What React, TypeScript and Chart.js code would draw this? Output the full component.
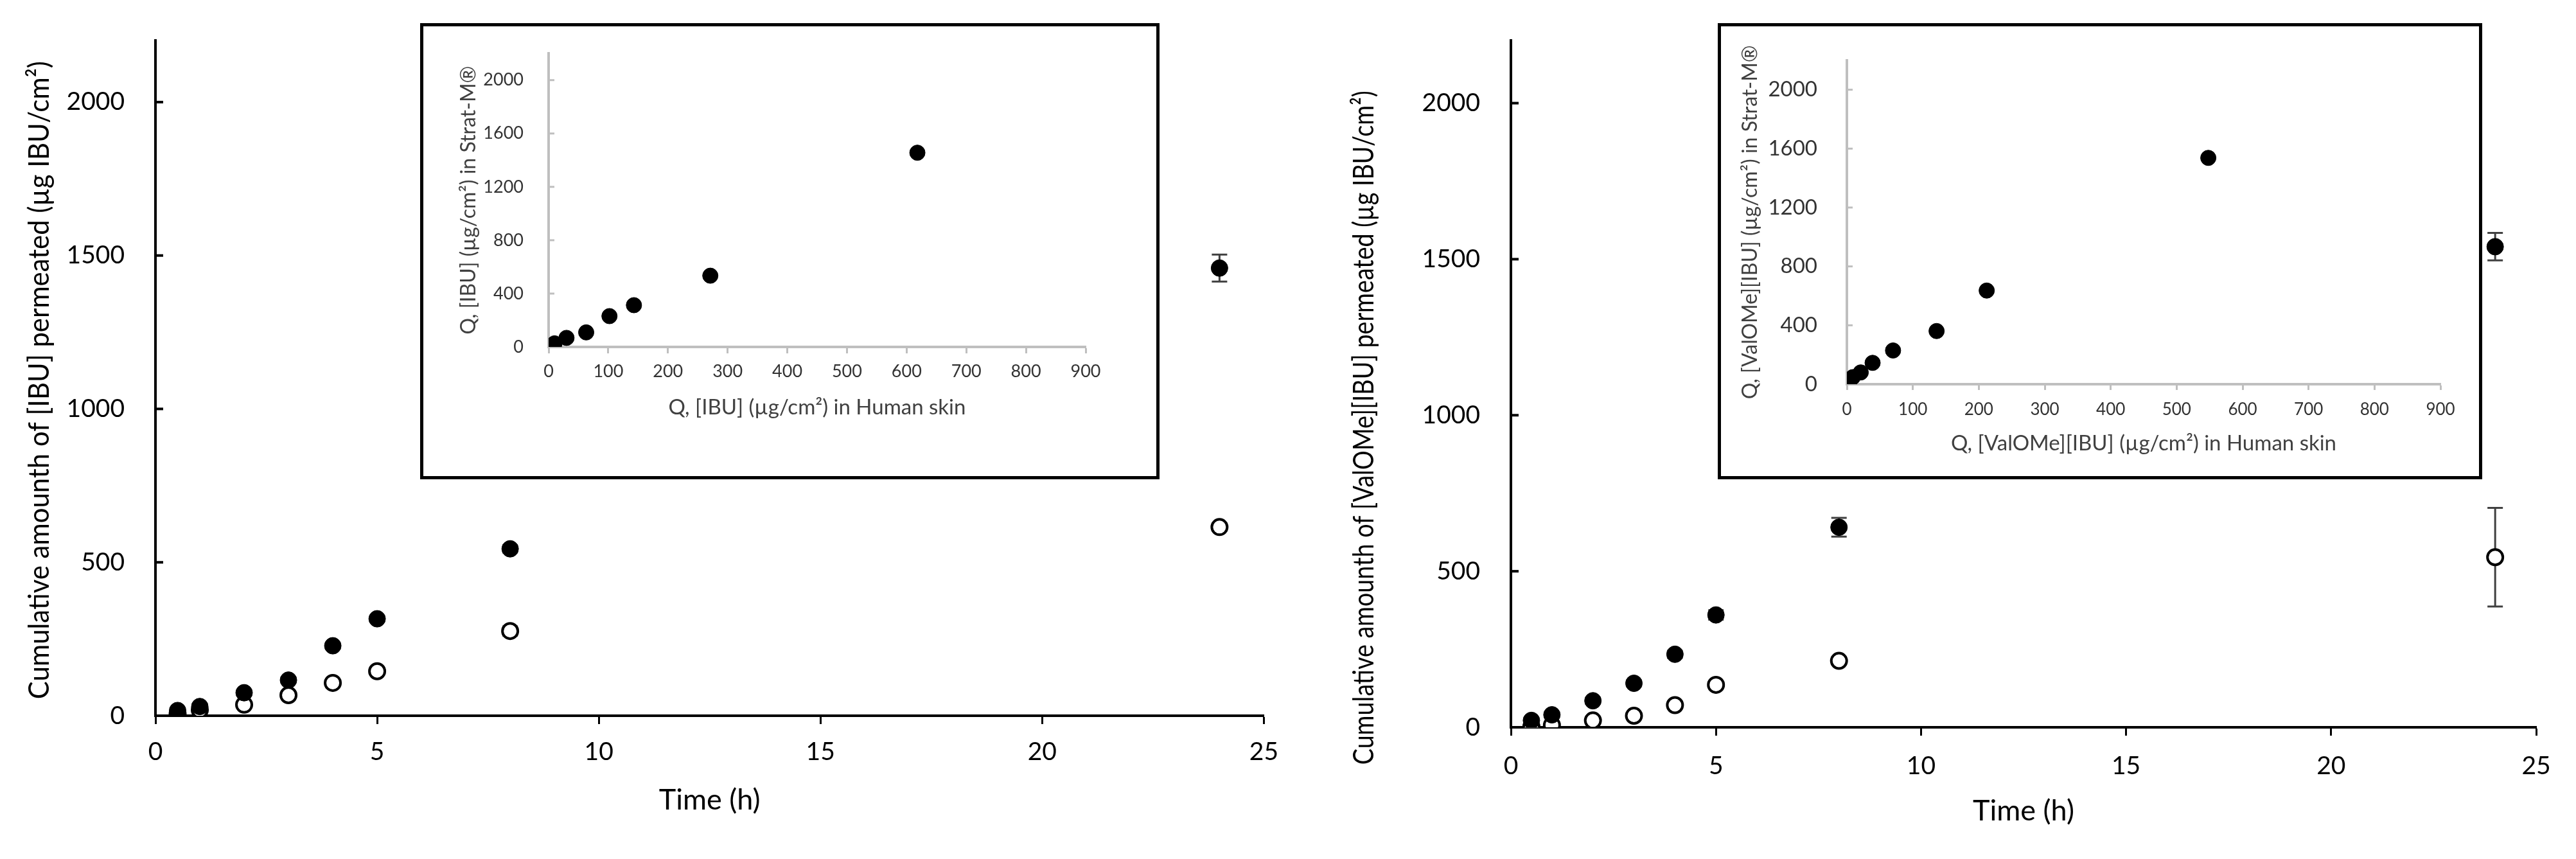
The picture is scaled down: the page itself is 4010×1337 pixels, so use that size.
import React, { useEffect, useRef } from "react";
import { Chart, registerables } from "chart.js";

Chart.register(...registerables);

// ---------------- DATA ----------------
const timeH = [0.5, 1, 2, 3, 4, 5, 8, 24];

// Left panel: [IBU]
const ibuStratM = [17, 30, 75, 116, 228, 316, 544, 1459];
const ibuStratMErr = [5, 6, 8, 8, 10, 10, 12, 44];
const ibuHumanSkin = [6, 19, 36, 67, 107, 145, 276, 615];
const ibuHumanSkinErr = [3, 4, 6, 8, 8, 10, 15, 12];

// Right panel: [ValOMe][IBU]
const valStratM = [22, 40, 85, 141, 234, 360, 641, 1540];
const valStratMErr = [6, 8, 10, 10, 12, 15, 30, 44];
const valHumanSkin = [3, 7, 22, 37, 71, 136, 213, 545];
const valHumanSkinErr = [2, 3, 5, 6, 8, 10, 12, 158];

// Insets: Q in human skin (x) vs Q in Strat-M (y)
const ibuInsetHuman = [3, 10, 30, 63, 102, 143, 271, 618];
const ibuInsetStratM = [10, 27, 68, 109, 231, 313, 534, 1456];
const valInsetHuman = [4, 9, 21, 39, 70, 136, 212, 548];
const valInsetStratM = [17, 48, 80, 145, 229, 361, 636, 1537];

// Ticks
const mainXTicks = [0, 5, 10, 15, 20, 25];
const mainYTicks = [0, 500, 1000, 1500, 2000];
const insetXTicks = [0, 100, 200, 300, 400, 500, 600, 700, 800, 900];
const insetYTicks = [0, 400, 800, 1200, 1600, 2000];
const mainXMax = 25;
const mainYMax = 2200;
const insetXMax = 900;
const insetYMax = 2200;

// Text
const leftYTitle = "Cumulative amounth of [IBU] permeated (\u00b5g IBU/cm\u00b2)";
const rightYTitle = "Cumulative amounth of [ValOMe][IBU] permeated (\u00b5g IBU/cm\u00b2)";
const mainXTitle = "Time (h)";
const inset1XTitle = "Q, [IBU] (\u00b5g/cm\u00b2) in Human skin";
const inset1YTitle = "Q, [IBU] (\u00b5g/cm\u00b2) in Strat-M\u00ae";
const inset2XTitle = "Q, [ValOMe][IBU] (\u00b5g/cm\u00b2) in Human skin";
const inset2YTitle = "Q, [ValOMe][IBU] (\u00b5g/cm\u00b2) in Strat-M\u00ae";

const FONT = "Lato, 'Open Sans', sans-serif";

const toPts = (xs: number[], ys: number[]) => xs.map((x, i) => ({ x, y: ys[i] }));

// ---------------- PLUGINS ----------------
const framePlugin = {
  id: "frame",
  beforeDraw(chart: any, _a: any, opts: any) {
    const { ctx, width, height } = chart;
    ctx.save();
    ctx.fillStyle = "#ffffff";
    ctx.fillRect(0, 0, width, height);
    if (opts && opts.lineWidth) {
      const h = opts.lineWidth / 2;
      ctx.strokeStyle = opts.color || "#000";
      ctx.lineWidth = opts.lineWidth;
      ctx.strokeRect(h, h, width - 2 * h, height - 2 * h);
    }
    ctx.restore();
  },
};

const errorBarsPlugin = {
  id: "errorBars",
  beforeDatasetsDraw(chart: any) {
    const { ctx } = chart;
    const y = chart.scales.y;
    chart.data.datasets.forEach((ds: any, i: number) => {
      const errs = ds.errorBars;
      if (!errs) return;
      const meta = chart.getDatasetMeta(i);
      ctx.save();
      ctx.strokeStyle = "#404040";
      ctx.lineWidth = 3;
      meta.data.forEach((pt: any, j: number) => {
        const e = errs[j];
        if (!e) return;
        const v = ds.data[j].y;
        const yt = y.getPixelForValue(v + e);
        const yb = y.getPixelForValue(Math.max(0, v - e));
        const x = pt.x;
        const cw = 12;
        ctx.beginPath();
        ctx.moveTo(x, yt);
        ctx.lineTo(x, yb);
        ctx.moveTo(x - cw, yt);
        ctx.lineTo(x + cw, yt);
        ctx.moveTo(x - cw, yb);
        ctx.lineTo(x + cw, yb);
        ctx.stroke();
      });
      ctx.restore();
    });
  },
};

const innerTicksPlugin = {
  id: "innerTicks",
  beforeDatasetsDraw(chart: any, _a: any, opts: any) {
    if (!opts || !opts.length) return;
    const { ctx, chartArea } = chart;
    const y = chart.scales.y;
    ctx.save();
    ctx.strokeStyle = opts.color;
    ctx.lineWidth = opts.width;
    y.ticks.forEach((t: any) => {
      const py = y.getPixelForValue(t.value);
      ctx.beginPath();
      ctx.moveTo(chartArea.left, py);
      ctx.lineTo(chartArea.left + opts.length, py);
      ctx.stroke();
    });
    ctx.restore();
  },
};

const rotatedTitlePlugin = {
  id: "rotatedTitle",
  afterDraw(chart: any, _a: any, opts: any) {
    if (!opts || !opts.text) return;
    const { ctx, chartArea } = chart;
    const cx = chartArea.left + opts.dx;
    const cy = (chartArea.top + chartArea.bottom) / 2 + opts.dy;
    ctx.save();
    ctx.font = `${opts.size}px ${FONT}`;
    const w = ctx.measureText(opts.text).width;
    ctx.translate(cx, cy);
    ctx.rotate(-Math.PI / 2);
    ctx.scale(opts.length / w, 1);
    ctx.textAlign = "center";
    ctx.textBaseline = "middle";
    ctx.fillStyle = opts.color || "#000";
    ctx.fillText(opts.text, 0, 0);
    ctx.restore();
  },
};

const plugins = [framePlugin, errorBarsPlugin, innerTicksPlugin, rotatedTitlePlugin];

// ---------------- CONFIG BUILDERS ----------------
type Area = { left: number; top: number; right: number; bottom: number };

function mainConfig(p: {
  W: number;
  H: number;
  area: Area;
  stratM: number[];
  stratMErr: number[];
  human: number[];
  humanErr: number[];
  yTitle: string;
  yTitleDx: number;
  yTitleDy: number;
  yTitleLen: number;
  xTickPad: number;
  xTitlePad: number;
}) {
  return {
    type: "scatter",
    data: {
      datasets: [
        {
          label: "Strat-M",
          data: toPts(timeH, p.stratM),
          errorBars: p.stratMErr,
          pointRadius: 13,
          pointBackgroundColor: "#000",
          pointBorderColor: "#000",
          pointBorderWidth: 1,
          pointHoverRadius: 13,
        },
        {
          label: "Human skin",
          data: toPts(timeH, p.human),
          errorBars: p.humanErr,
          pointRadius: 12,
          pointBackgroundColor: "#fff",
          pointBorderColor: "#000",
          pointBorderWidth: 4,
          pointHoverRadius: 12,
        },
      ],
    },
    options: {
      responsive: false,
      animation: false,
      devicePixelRatio: 1,
      events: [],
      layout: { padding: { left: 0, top: p.area.top, right: p.W - p.area.right, bottom: 0 } },
      plugins: {
        legend: { display: false },
        tooltip: { enabled: false },
        frame: { lineWidth: 0 },
        innerTicks: { length: 12, width: 4, color: "#000" },
        rotatedTitle: {
          text: p.yTitle,
          dx: p.yTitleDx,
          dy: p.yTitleDy,
          size: 44,
          length: p.yTitleLen,
          color: "#000",
        },
      },
      scales: {
        x: {
          type: "linear",
          min: 0,
          max: mainXMax,
          afterBuildTicks: (s: any) => {
            s.ticks = mainXTicks.map((v) => ({ value: v }));
          },
          afterFit: (s: any) => {
            s.height = p.H - p.area.bottom;
          },
          border: { display: true, color: "#000", width: 4 },
          grid: {
            display: true,
            drawOnChartArea: false,
            drawTicks: true,
            tickLength: 13,
            tickWidth: 3,
            tickColor: "#000",
          },
          ticks: {
            font: { family: FONT, size: 39 },
            color: "#000",
            padding: p.xTickPad,
            maxRotation: 0,
            autoSkip: false,
            callback: (v: any) => String(v),
          },
          title: {
            display: true,
            text: mainXTitle,
            font: { family: FONT, size: 45 },
            color: "#000",
            padding: { top: 0, bottom: p.xTitlePad },
          },
        },
        y: {
          type: "linear",
          min: 0,
          max: mainYMax,
          afterBuildTicks: (s: any) => {
            s.ticks = mainYTicks.map((v) => ({ value: v }));
          },
          afterFit: (s: any) => {
            s.width = p.area.left;
          },
          border: { display: true, color: "#000", width: 4 },
          grid: { display: false },
          ticks: {
            font: { family: FONT, size: 39 },
            color: "#000",
            padding: 40,
            autoSkip: false,
            callback: (v: any) => String(v),
          },
          title: { display: false },
        },
      },
    },
  };
}

function insetConfig(p: {
  W: number;
  H: number;
  area: Area;
  xs: number[];
  ys: number[];
  xTitle: string;
  yTitle: string;
  yTickSize: number;
  yTickPad: number;
  xTickSize: number;
  xTickLen: number;
  xTickPad: number;
  xTitlePad: number;
  yTitlePad: number;
}) {
  const axisColor = "#bfbfbf";
  return {
    type: "scatter",
    data: {
      datasets: [
        {
          label: "Q",
          data: toPts(p.xs, p.ys),
          pointRadius: 12,
          pointBackgroundColor: "#000",
          pointBorderColor: "#000",
          pointBorderWidth: 1,
          pointHoverRadius: 12,
        },
      ],
    },
    options: {
      responsive: false,
      animation: false,
      devicePixelRatio: 1,
      events: [],
      layout: { padding: { left: 0, top: p.area.top, right: p.W - p.area.right, bottom: 0 } },
      plugins: {
        legend: { display: false },
        tooltip: { enabled: false },
        frame: { lineWidth: 5, color: "#000" },
        innerTicks: { length: 9, width: 3, color: axisColor },
        rotatedTitle: { text: "" },
      },
      scales: {
        x: {
          type: "linear",
          min: 0,
          max: insetXMax,
          afterBuildTicks: (s: any) => {
            s.ticks = insetXTicks.map((v) => ({ value: v }));
          },
          afterFit: (s: any) => {
            s.height = p.H - p.area.bottom;
          },
          border: { display: true, color: axisColor, width: 4 },
          grid: {
            display: true,
            drawOnChartArea: false,
            drawTicks: true,
            tickLength: p.xTickLen,
            tickWidth: 3,
            tickColor: axisColor,
          },
          ticks: {
            font: { family: FONT, size: p.xTickSize },
            color: "#333",
            padding: p.xTickPad,
            maxRotation: 0,
            autoSkip: false,
            callback: (v: any) => String(v),
          },
          title: {
            display: true,
            text: p.xTitle,
            font: { family: FONT, size: 33 },
            color: "#404040",
            padding: { top: 0, bottom: p.xTitlePad },
          },
        },
        y: {
          type: "linear",
          min: 0,
          max: insetYMax,
          afterBuildTicks: (s: any) => {
            s.ticks = insetYTicks.map((v) => ({ value: v }));
          },
          afterFit: (s: any) => {
            s.width = p.area.left;
          },
          border: { display: true, color: axisColor, width: 4 },
          grid: { display: false },
          ticks: {
            font: { family: FONT, size: p.yTickSize },
            color: "#333",
            padding: p.yTickPad,
            autoSkip: false,
            callback: (v: any) => String(v),
          },
          title: {
            display: true,
            text: p.yTitle,
            font: { family: FONT, size: 32 },
            color: "#404040",
            padding: { top: p.yTitlePad, bottom: 0 },
          },
        },
      },
    },
  };
}

// ---------------- COMPONENTS ----------------
function ChartCanvas(props: { left: number; top: number; width: number; height: number; config: any }) {
  const ref = useRef<HTMLCanvasElement | null>(null);
  useEffect(() => {
    if (!ref.current) return;
    const chart = new Chart(ref.current, { ...props.config, plugins });
    return () => chart.destroy();
  }, []);
  return (
    <canvas
      ref={ref}
      width={props.width}
      height={props.height}
      style={{
        position: "absolute",
        left: props.left,
        top: props.top,
        width: props.width,
        height: props.height,
        display: "block",
      }}
    />
  );
}

export default function App() {
  const leftMain = mainConfig({
    W: 2010,
    H: 1337,
    area: { left: 242, top: 27, right: 1978, bottom: 1114 },
    stratM: ibuStratM,
    stratMErr: ibuStratMErr,
    human: ibuHumanSkin,
    humanErr: ibuHumanSkinErr,
    yTitle: leftYTitle,
    yTitleDx: -180,
    yTitleDy: 3,
    yTitleLen: 993,
    xTickPad: 20,
    xTitlePad: 65,
  });
  const rightMain = mainConfig({
    W: 2000,
    H: 1337,
    area: { left: 342, top: 51, right: 1938, bottom: 1132 },
    stratM: valStratM,
    stratMErr: valStratMErr,
    human: valHumanSkin,
    humanErr: valHumanSkinErr,
    yTitle: rightYTitle,
    yTitleDx: -228,
    yTitleDy: 68,
    yTitleLen: 1049,
    xTickPad: 24,
    xTitlePad: 48,
  });
  const inset1 = insetConfig({
    W: 1151,
    H: 710,
    area: { left: 200, top: 39, right: 1036, bottom: 504 },
    xs: ibuInsetHuman,
    ys: ibuInsetStratM,
    xTitle: inset1XTitle,
    yTitle: inset1YTitle,
    yTickSize: 27,
    yTickPad: 31,
    xTickSize: 27,
    xTickLen: 10,
    xTickPad: 12,
    xTitlePad: 92,
    yTitlePad: 56,
  });
  const inset2 = insetConfig({
    W: 1190,
    H: 710,
    area: { left: 201, top: 45, right: 1125, bottom: 562 },
    xs: valInsetHuman,
    ys: valInsetStratM,
    xTitle: inset2XTitle,
    yTitle: inset2YTitle,
    yTickSize: 33,
    yTickPad: 38,
    xTickSize: 26,
    xTickLen: 9,
    xTickPad: 15,
    xTitlePad: 36,
    yTitlePad: 31,
  });

  return (
    <div
      style={{
        position: "absolute",
        left: 0,
        top: 0,
        width: 4010,
        height: 1337,
        background: "#fff",
        overflow: "hidden",
      }}
    >
      <ChartCanvas left={0} top={0} width={2010} height={1337} config={leftMain} />
      <ChartCanvas left={2010} top={0} width={2000} height={1337} config={rightMain} />
      <ChartCanvas left={654} top={36} width={1151} height={710} config={inset1} />
      <ChartCanvas left={2674} top={36} width={1190} height={710} config={inset2} />
    </div>
  );
}
